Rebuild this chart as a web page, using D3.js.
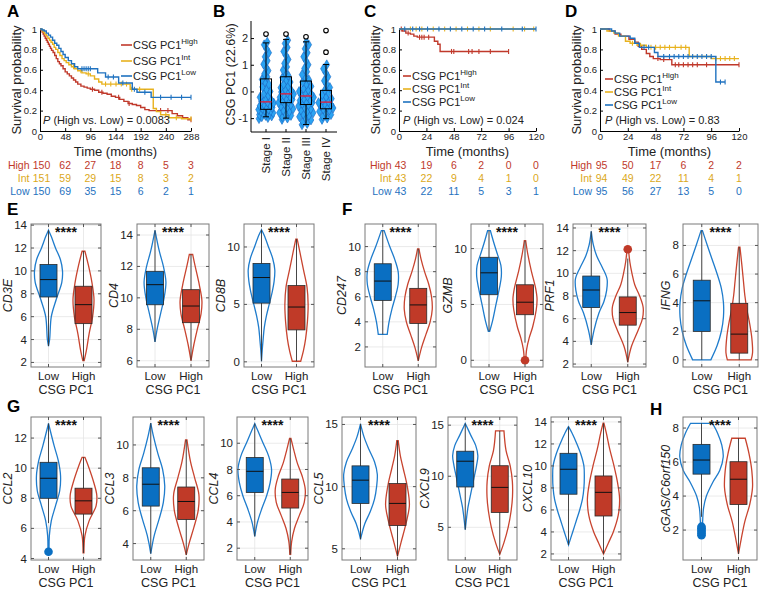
<!DOCTYPE html>
<html><head><meta charset="utf-8">
<script src="https://cdn.jsdelivr.net/npm/d3@7"></script>
<style>body{margin:0;background:#fff} svg{display:block}</style>
</head><body><script>
// ================= DATA =================
const kmGroups = ["High", "Int", "Low"];

// Panel A
const aTimeTicks = [0, 48, 96, 144, 192, 240, 288];
const aHighSteps = [[2,0.99],[4,0.97],[6,0.95],[8,0.93],[10,0.91],[12,0.89],[14,0.87],[16,0.85],[18,0.83],[20,0.81],[22,0.79],[25,0.77],[28,0.74],[31,0.71],[34,0.68],[37,0.66],[40,0.64],[44,0.61],[48,0.58],[52,0.56],[56,0.54],[60,0.52],[64,0.5],[68,0.48],[72,0.46],[78,0.44],[84,0.43],[90,0.42],[96,0.41],[104,0.4],[112,0.38],[120,0.37],[128,0.36],[136,0.34],[144,0.33],[152,0.31],[160,0.29],[168,0.27],[176,0.26],[184,0.25],[192,0.23],[200,0.21],[208,0.2],[252,0.17],[262,0.15],[272,0.13],[282,0.11]];
const aHighCensor = [100,118,150,170,230,244,288];
const aHighEnd = 288;
const aIntSteps = [[3,0.99],[6,0.97],[9,0.95],[12,0.93],[15,0.91],[18,0.89],[21,0.87],[24,0.85],[27,0.82],[30,0.8],[34,0.77],[38,0.74],[42,0.71],[46,0.69],[50,0.67],[55,0.65],[60,0.63],[66,0.61],[72,0.59],[80,0.57],[88,0.56],[96,0.54],[104,0.51],[112,0.48],[118,0.46],[172,0.41],[216,0.22],[222,0.19],[230,0.16],[246,0.13],[270,0.12]];
const aIntCensor = [64,78,92,125,135,145,155,165,175,190,240,260,288];
const aIntEnd = 288;
const aLowSteps = [[4,0.99],[8,0.98],[12,0.96],[16,0.94],[20,0.92],[24,0.89],[28,0.86],[32,0.84],[36,0.81],[40,0.78],[44,0.75],[48,0.72],[54,0.69],[60,0.66],[66,0.63],[72,0.61],[110,0.57],[125,0.53],[150,0.47],[176,0.41],[185,0.38],[212,0.33]];
const aLowCensor = [80,84,88,92,96,130,140,158,180,200,230,250,270,288];
const aLowEnd = 288;
const aRiskHigh = [150, 62, 27, 18, 8, 5, 3];
const aRiskInt  = [151, 59, 29, 15, 8, 3, 2];
const aRiskLow  = [150, 69, 35, 15, 6, 2, 1];
const aPValue = "0.0083";

// Panel C
const cTimeTicks = [0, 24, 48, 72, 96, 120];
const cHighSteps = [[3,0.98],[6,0.96],[10,0.95],[13,0.93],[16,0.92],[31,0.88],[34,0.85],[36,0.78]];
const cHighCensor = [2,8,18,20,22,26,46,48,61,64,70,80,96];
const cHighEnd = 96;
const cIntSteps = [];
const cIntCensor = [10,15,20,30,40,50,60,70,80,100,110,118];
const cIntEnd = 120;
const cLowSteps = [];
const cLowCensor = [5,12,18,25,35,45,55,65,75,90,108,120];
const cLowEnd = 120;
const cRiskHigh = [43, 19, 6, 2, 0, 0];
const cRiskInt  = [43, 22, 9, 4, 1, 0];
const cRiskLow  = [43, 22, 11, 5, 3, 1];
const cPValue = "0.024";

// Panel D
const dTimeTicks = [0, 24, 48, 72, 96, 120];
const dHighSteps = [[8,0.98],[13,0.95],[18,0.93],[25,0.9],[30,0.87],[33,0.83],[36,0.8],[40,0.76],[43,0.73],[46,0.71],[52,0.7],[62,0.65]];
const dHighCensor = [50,55,65,68,72,76,80,84,92,120];
const dHighEnd = 120;
const dIntSteps = [[6,0.98],[12,0.96],[16,0.93],[22,0.88],[26,0.86],[32,0.84],[40,0.82],[77,0.73],[96,0.71]];
const dIntCensor = [28,35,44,48,52,56,60,65,70,74,100,104,108,112,116];
const dIntEnd = 120;
const dLowSteps = [[10,0.98],[13,0.96],[17,0.93],[26,0.91],[30,0.86],[34,0.82],[47,0.77],[50,0.73],[100,0.48]];
const dLowCensor = [38,42,55,60,64,68,72,76,80,84,88,92,96,104,108];
const dLowEnd = 108;
const dRiskHigh = [95, 50, 17, 6, 2, 2];
const dRiskInt  = [94, 49, 22, 11, 4, 1];
const dRiskLow  = [95, 56, 27, 13, 5, 0];
const dPValue = "0.83";

// Panel B
const stages = ["Stage I", "Stage II", "Stage III", "Stage IV"];
const bTicks = [-1, 0, 1, 2];
// [whiskerLow, q1, median, q3, whiskerHigh]
const stageBox = [[-0.95,-0.67,-0.39,0.47,1.82],[-1.0,-0.42,-0.09,0.55,1.95],[-1.24,-0.49,-0.17,0.39,1.86],[-1.02,-0.65,-0.4,0.04,1.01]];
const stageOutliers = [[2.15],[2.15],[2.05],[1.47,2.28]];
const stageValues = [
  [-1.02,-0.98,-0.95,-0.92,-0.9,-0.87,-0.85,-0.82,-0.8,-0.78,-0.75,-0.72,-0.7,-0.68,-0.66,-0.63,-0.6,-0.57,-0.54,-0.5,-0.47,-0.43,-0.4,-0.37,-0.33,-0.28,-0.22,-0.15,-0.08,0,0.08,0.17,0.27,0.36,0.45,0.55,0.66,0.78,0.9,1.02,1.15,1.3,1.45,1.6,1.75,1.85],
  [-1.05,-1.0,-0.95,-0.9,-0.85,-0.8,-0.75,-0.7,-0.65,-0.6,-0.55,-0.5,-0.46,-0.42,-0.38,-0.34,-0.3,-0.26,-0.22,-0.18,-0.14,-0.1,-0.06,-0.02,0.03,0.08,0.14,0.2,0.27,0.35,0.43,0.52,0.6,0.7,0.8,0.92,1.05,1.2,1.35,1.5,1.65,1.8,1.92],
  [-1.25,-1.2,-1.13,-1.07,-1.0,-0.95,-0.9,-0.85,-0.8,-0.75,-0.7,-0.65,-0.6,-0.55,-0.5,-0.46,-0.42,-0.38,-0.34,-0.3,-0.26,-0.22,-0.18,-0.14,-0.1,-0.05,0,0.06,0.12,0.19,0.27,0.35,0.44,0.53,0.63,0.74,0.86,1.0,1.15,1.3,1.45,1.6,1.75,1.85],
  [-1.05,-1.0,-0.93,-0.87,-0.8,-0.75,-0.7,-0.66,-0.62,-0.58,-0.54,-0.5,-0.46,-0.42,-0.38,-0.33,-0.27,-0.2,-0.12,-0.04,0.05,0.15,0.27,0.4,0.55,0.7,0.85,1.0]
];

// Panels E-H
const groupsLH = ["Low", "High"];
const geneNames = ["CD3E","CD4","CD8B","CD247","GZMB","PRF1","IFNG","CCL2","CCL3","CCL4","CCL5","CXCL9","CXCL10","cGAS/C6orf150"];
const geneYLims = [[1.6,14.1],[5.6,14.7],[-0.45,12.0],[0.4,11.8],[-0.6,12.2],[1.74,14.35],[-0.5,9.5],[3.9,13.4],[3.0,11.7],[1.1,12.0],[4.1,15.6],[1.8,15.8],[1.45,14.45],[0.24,8.65]];
const geneYTicks = [[2,4,6,8,10,12,14],[6,8,10,12,14],[0,5,10],[2,4,6,8,10],[0,5,10],[2,4,6,8,10,12,14],[0,2,4,6,8],[4,6,8,10,12],[4,6,8,10],[2,4,6,8,10],[5,10,15],[5,10,15],[2,4,6,8,10,12,14],[2,4,6,8]];
// [whiskerLow, q1, median, q3, whiskerHigh]
const lowBox = [[3.43,7.72,9.24,10.56,13.56],[7.2,9.56,10.84,11.69,14.3],[0.05,5.11,7.34,8.57,11.5],[3.0,5.71,7.25,8.63,11.27],[2.6,5.87,7.83,9.22,11.6],[3.7,6.98,8.53,9.76,13.7],[0,1.99,4.13,5.57,9.04],[6.35,8.0,9.33,10.39,12.97],[3.39,6.28,7.61,8.61,11.33],[2.9,6.24,7.86,8.91,11.5],[5.77,8.65,10.52,11.67,15.05],[4.77,8.95,11.47,12.45,15.17],[2.82,7.43,9.7,11.15,13.57],[2.78,5.29,6.12,7.04,8.28]];
const highBox = [[2.17,5.39,7.05,8.66,11.72],[6.0,8.42,9.48,10.52,12.76],[0.05,2.78,4.77,6.64,10.68],[0.9,3.87,5.35,6.67,9.82],[1.58,4.08,5.2,6.76,10.7],[2.16,5.43,6.54,7.92,11.3],[0,0.47,1.8,3.95,7.88],[4.37,6.95,7.83,8.67,10.72],[3.31,5.46,6.56,7.44,10.31],[1.53,5.06,6.25,7.27,10.36],[4.4,6.87,8.65,10.25,13.7],[2.35,6.46,8.91,11.03,14.44],[2.0,5.45,7.6,9.09,13.88],[0.6,3.5,4.99,6.02,7.4]];
const lowOutliers = [[],[],[],[],[],[],[],[4.45],[],[],[],[],[],[1.7,1.8,1.9,2.0,2.1,2.2]];
const highOutliers = [[],[],[],[],[0],[12.13],[],[],[],[],[],[],[],[]];
// violin density profiles: [value, relative half-width]
const lowViolin = [
  [[3.43,0],[4,0.08],[6,0.2],[7.5,0.55],[9,0.95],[10,1.0],[11,0.85],[12,0.5],[13,0.2],[13.56,0]],
  [[7.2,0],[8,0.15],[9,0.4],[10,0.65],[11,0.78],[12,0.6],[13,0.3],[14.3,0]],
  [[0.05,0],[1,0.05],[2,0.12],[3,0.2],[4,0.35],[5,0.55],[6,0.75],[7,0.9],[8,0.95],[9,0.8],[10,0.5],[11,0.2],[11.5,0]],
  [[3.0,0.32],[4,0.45],[5,0.65],[6,0.9],[7,1.1],[8,1.1],[9,0.85],[10,0.5],[11.27,0.1]],
  [[2.6,0.05],[3.5,0.25],[5,0.5],[6.5,0.75],[7.5,0.88],[8.5,0.85],[9.5,0.6],[10.5,0.35],[11.6,0.1]],
  [[3.7,0],[5,0.2],[6.5,0.55],[7.5,0.9],[8.5,1.1],[9.5,1.13],[10.5,0.8],[11.5,0.4],[12.5,0.15],[13.7,0]],
  [[0,0.65],[1,1.1],[2,1.4],[3,1.55],[4,1.55],[5,1.4],[6,1.1],[7,0.75],[8,0.4],[9.04,0.05]],
  [[4.45,0.04],[5.5,0.06],[6.5,0.2],[7.5,0.5],[8.5,0.8],[9.5,0.86],[10.5,0.7],[11.5,0.4],[12.97,0]],
  [[3.39,0],[4.5,0.25],[5.5,0.6],[6.5,0.9],[7.5,1.0],[8.5,0.85],[9.5,0.5],[10.5,0.2],[11.33,0]],
  [[2.9,0],[4,0.2],[5,0.5],[6,0.85],[7,1.1],[8,1.2],[9,1.0],[10,0.6],[11,0.2],[11.5,0]],
  [[5.77,0],[7,0.3],[8,0.7],[9,1.0],[10,1.15],[11,1.2],[12,1.0],[13,0.6],[14,0.25],[15.05,0]],
  [[4.77,0],[6,0.1],[7,0.2],[8,0.35],[9,0.5],[10,0.65],[11,0.8],[12,0.9],[13,0.75],[14,0.4],[15.17,0]],
  [[2.82,0],[4,0.3],[5,0.55],[6,0.8],[7,1.0],[8,1.1],[9,1.13],[10,1.1],[11,0.9],[12,0.6],[13,0.25],[13.57,0]],
  [[1.7,0.05],[2.5,0.08],[3.3,0.15],[4,0.35],[4.8,0.8],[5.5,1.3],[6.3,1.55],[7,1.45],[7.7,1.15],[8.28,0.78]]
];
const highViolin = [
  [[2.17,0.05],[3,0.2],[4.5,0.4],[6,0.65],[7.5,0.75],[9,0.6],[10.5,0.35],[11.72,0.1]],
  [[6,0],[7,0.2],[8,0.45],[9,0.72],[9.8,0.78],[10.8,0.6],[12,0.3],[12.76,0.12]],
  [[0.05,0.3],[1,0.5],[2,0.65],[3.5,0.78],[5,0.83],[6.5,0.75],[8,0.5],[9.5,0.25],[10.68,0.05]],
  [[0.9,0],[2,0.25],[3,0.55],[4,0.85],[5,1.0],[6,0.95],[7,0.75],[8,0.45],[9,0.2],[9.82,0.05]],
  [[0,0.05],[1,0.12],[2,0.3],[3,0.55],[4.5,0.8],[5.5,0.86],[6.5,0.75],[8,0.45],[9.5,0.2],[10.7,0.05]],
  [[2.16,0],[3.5,0.25],[5,0.75],[6,1.05],[7,1.1],[8,0.85],[9,0.5],[10,0.3],[11,0.15],[12.13,0.05]],
  [[0,0.85],[0.5,0.95],[1.5,0.9],[2.5,0.75],[3.5,0.55],[4.5,0.4],[5.5,0.3],[6.5,0.2],[7.88,0.05]],
  [[4.37,0.03],[5.5,0.1],[6.5,0.4],[7.5,0.9],[8.2,0.95],[9,0.75],[10,0.4],[10.72,0.1]],
  [[3.31,0],[4,0.2],[5,0.55],[6,0.85],[7,0.9],[8,0.6],[9,0.3],[10.31,0.05]],
  [[1.53,0.03],[2.5,0.1],[3.5,0.3],[4.5,0.65],[5.5,1.0],[6.5,1.07],[7.5,0.85],[8.5,0.5],[9.5,0.25],[10.36,0.05]],
  [[4.4,0],[5.5,0.25],[7,0.6],[8.5,0.85],[10,0.7],[11.5,0.4],[12.5,0.2],[13.7,0.05]],
  [[2.35,0],[3.5,0.3],[5,0.6],[6.5,0.8],[8,0.91],[9.5,0.9],[11,0.75],[12.5,0.45],[14.44,0.3]],
  [[2.0,0],[3,0.35],[4,0.7],[5.5,1.05],[7,1.15],[8.5,1.0],[10,0.75],[11.5,0.45],[13,0.2],[13.88,0.03]],
  [[0.6,0],[1.5,0.2],[2.5,0.45],[3.5,0.8],[4.5,1.0],[5.5,0.95],[6.5,0.75],[7.4,0.48]]
];
const sigLabel = "****";

// ================= DRAWING =================
const FONT = '"Liberation Sans", Arial, Helvetica, sans-serif';
const KM_COL = ["#c0392b", "#e8b21e", "#1f72c0"];
const RISK_COL = ["#c0392b", "#dba81a", "#1f72c0"];
const BLUE_FILL = "#0a6fc2", RED_FILL = "#c03a28";
const BLUE_LINE = "#1f7ccc", RED_LINE = "#c8442f";

const svg = d3.select("body").append("svg")
  .attr("width", 764).attr("height", 602)
  .style("font-family", FONT);

function panelLetter(t, x, y) {
  svg.append("text").attr("x", x).attr("y", y).text(t)
    .attr("font-size", 17).attr("font-weight", "bold").attr("fill", "#000");
}

function drawKM(cfg) {
  const g = svg.append("g");
  const x = d3.scaleLinear().domain([0, cfg.xmax]).range([cfg.l, cfg.r]);
  const y = d3.scaleLinear().domain([0, 1]).range([cfg.b, cfg.t]);
  const xa = g.append("g").attr("transform", `translate(0,${cfg.b})`)
    .call(d3.axisBottom(x).tickValues(cfg.xticks).tickSizeInner(-3).tickSizeOuter(0).tickPadding(2));
  const ya = g.append("g").attr("transform", `translate(${cfg.l},0)`)
    .call(d3.axisLeft(y).tickValues([0, 0.2, 0.4, 0.6, 0.8, 1])
      .tickFormat(d => d === 0 ? "0" : d === 1 ? "1" : d3.format(".1f")(d))
      .tickSizeInner(-3).tickSizeOuter(0).tickPadding(3));
  [xa, ya].forEach(a => {
    a.attr("font-family", FONT).attr("font-size", 9.5);
    a.selectAll("path,line").attr("stroke", "#000");
    a.selectAll("text").attr("fill", "#222");
  });
  cfg.curves.forEach((c, k) => {
    const last = c.steps.length ? c.steps[c.steps.length - 1][1] : 1;
    const pts = [[0, 1]].concat(c.steps, [[c.end, last]]);
    g.append("path").datum(pts)
      .attr("d", d3.line().x(d => x(d[0])).y(d => y(d[1])).curve(d3.curveStepAfter))
      .attr("fill", "none").attr("stroke", KM_COL[k]).attr("stroke-width", 1.4);
    const S = t => { let s = 1; for (const [tt, ss] of c.steps) if (tt <= t) s = ss; return s; };
    c.censor.forEach(t => {
      g.append("line").attr("x1", x(t)).attr("x2", x(t))
        .attr("y1", y(S(t)) - 2.5).attr("y2", y(S(t)) + 2.5)
        .attr("stroke", KM_COL[k]).attr("stroke-width", 1.1);
    });
  });
  kmGroups.forEach((gr, k) => {
    const ly = cfg.legY[k];
    g.append("line").attr("x1", cfg.legX).attr("x2", cfg.legX + cfg.legLen)
      .attr("y1", ly).attr("y2", ly).attr("stroke", KM_COL[k]).attr("stroke-width", 1.6);
    const t = g.append("text").attr("x", cfg.legX + cfg.legLen + 1).attr("y", ly + 4)
      .attr("font-size", 11).attr("fill", "#222");
    t.append("tspan").text("CSG PC1");
    t.append("tspan").text(gr).attr("font-size", 8).attr("dy", -5);
  });
  const pt = g.append("text").attr("x", cfg.pX).attr("y", cfg.pY).attr("font-size", 11).attr("fill", "#222");
  pt.append("tspan").text("P").attr("font-style", "italic");
  pt.append("tspan").text(" (High vs. Low) = " + cfg.p);
  g.append("text").attr("x", (cfg.l + cfg.r) / 2).attr("y", cfg.b + 25)
    .attr("text-anchor", "middle").attr("font-size", 13).attr("fill", "#222").text("Time (months)");
  g.append("text").attr("transform", `translate(${cfg.ylabX},${(cfg.t + cfg.b) / 2}) rotate(-90)`)
    .attr("text-anchor", "middle").attr("font-size", 13).attr("fill", "#222").text("Survival probability");
  cfg.risk.forEach((row, k) => {
    const ry = cfg.riskY[k];
    g.append("text").attr("x", cfg.riskLabX).attr("y", ry).attr("text-anchor", "end")
      .attr("font-size", 10.5).attr("fill", RISK_COL[k]).text(kmGroups[k]);
    row.forEach((v, j) => {
      g.append("text").attr("x", x(cfg.xticks[j]) + (j === 0 ? 1.5 : 0)).attr("y", ry).attr("text-anchor", "middle")
        .attr("font-size", 10.5).attr("fill", RISK_COL[k]).text(v);
    });
  });
}

const riskRowsY = [168.5, 181.5, 194.5];
drawKM({ l: 40, r: 191, t: 29, b: 131, xmax: 288, xticks: aTimeTicks,
  curves: [{ steps: aHighSteps, censor: aHighCensor, end: aHighEnd },
           { steps: aIntSteps, censor: aIntCensor, end: aIntEnd },
           { steps: aLowSteps, censor: aLowCensor, end: aLowEnd }],
  legX: 121, legLen: 11, legY: [45, 61, 76], pX: 43, pY: 124, p: aPValue, ylabX: 21,
  risk: [aRiskHigh, aRiskInt, aRiskLow], riskY: riskRowsY, riskLabX: 29.5 });

drawKM({ l: 399, r: 536, t: 29, b: 131, xmax: 120, xticks: cTimeTicks,
  curves: [{ steps: cHighSteps, censor: cHighCensor, end: cHighEnd },
           { steps: cIntSteps, censor: cIntCensor, end: cIntEnd },
           { steps: cLowSteps, censor: cLowCensor, end: cLowEnd }],
  legX: 403, legLen: 8, legY: [76, 89, 102], pX: 403, pY: 124, p: cPValue, ylabX: 380,
  risk: [cRiskHigh, cRiskInt, cRiskLow], riskY: riskRowsY, riskLabX: 391.5 });

drawKM({ l: 600, r: 739, t: 29, b: 131, xmax: 120, xticks: dTimeTicks,
  curves: [{ steps: dHighSteps, censor: dHighCensor, end: dHighEnd },
           { steps: dIntSteps, censor: dIntCensor, end: dIntEnd },
           { steps: dLowSteps, censor: dLowCensor, end: dLowEnd }],
  legX: 605, legLen: 8, legY: [79, 92, 105], pX: 605, pY: 124, p: dPValue, ylabX: 581,
  risk: [dRiskHigh, dRiskInt, dRiskLow], riskY: riskRowsY, riskLabX: 592 });

// ---- Panel B ----
(function () {
  const l = 251, r = 337, t = 21, b = 132;
  const g = svg.append("g");
  const x = d3.scaleBand().domain(stages).range([l + 5, r - 1]).padding(0);
  const cx = s => x(s) + x.bandwidth() / 2;
  const y = d3.scaleLinear().domain([-1.52, 2.64]).range([b, t]);
  const diamond = d3.symbol().type(d3.symbolDiamond).size(28);
  stages.forEach((s, i) => {
    const vals = stageValues[i].slice().sort((a, b) => a - b);
    vals.forEach((v, j) => {
      const cnt = vals.filter(u => Math.abs(u - v) < 0.2).length;
      const w = Math.min(8, 1.0 * cnt);
      const frac = ((j * 0.618034) % 1) - 0.5;
      g.append("path").attr("d", diamond)
        .attr("transform", `translate(${cx(s) + frac * 2 * w},${y(v)})`)
        .attr("fill", "#2aa3f2").attr("stroke", "#1a66c2").attr("stroke-width", 0.6);
    });
  });
  stages.forEach((s, i) => {
    const [wl, q1, md, q3, wh] = stageBox[i];
    const c = cx(s), hw = 5.5;
    g.append("line").attr("x1", c).attr("x2", c).attr("y1", y(wl)).attr("y2", y(q1)).attr("stroke", "#000").attr("stroke-width", 1);
    g.append("line").attr("x1", c).attr("x2", c).attr("y1", y(q3)).attr("y2", y(wh)).attr("stroke", "#000").attr("stroke-width", 1);
    [wl, wh].forEach(v => g.append("line").attr("x1", c - 3).attr("x2", c + 3).attr("y1", y(v)).attr("y2", y(v)).attr("stroke", "#000"));
    g.append("rect").attr("x", c - hw).attr("y", y(q3)).attr("width", 2 * hw).attr("height", y(q1) - y(q3))
      .attr("fill", "none").attr("stroke", "#000").attr("stroke-width", 1);
    g.append("line").attr("x1", c - hw).attr("x2", c + hw).attr("y1", y(md)).attr("y2", y(md))
      .attr("stroke", "#d0284a").attr("stroke-width", 1.5);
    stageOutliers[i].forEach(v => g.append("circle").attr("cx", c).attr("cy", y(v)).attr("r", 2.3)
      .attr("fill", "#fff").attr("stroke", "#000").attr("stroke-width", 1.1));
  });
  const ya = g.append("g").attr("transform", `translate(${l},0)`)
    .call(d3.axisLeft(y).tickValues(bTicks).tickFormat(d => d < 0 ? "-" + Math.abs(d) : d).tickSizeInner(-3).tickSizeOuter(0).tickPadding(3));
  g.append("line").attr("x1", l).attr("x2", r).attr("y1", b).attr("y2", b).attr("stroke", "#000");
  ya.select(".domain").attr("d", `M0,${t}V${b}`);
  ya.attr("font-family", FONT).attr("font-size", 11);
  ya.selectAll("path,line").attr("stroke", "#000");
  ya.selectAll("text").attr("fill", "#222");
  stages.forEach(s => {
    g.append("line").attr("x1", cx(s)).attr("x2", cx(s)).attr("y1", b).attr("y2", b - 3).attr("stroke", "#000");
    g.append("text").attr("transform", `translate(${cx(s) + 4},${b + 5}) rotate(-90)`)
      .attr("text-anchor", "end").attr("font-size", 11.5).attr("fill", "#222").text(s);
  });
  g.append("text").attr("transform", `translate(${235},${(t + b) / 2 - 2}) rotate(-90)`)
    .attr("text-anchor", "middle").attr("font-size", 12.5).attr("fill", "#222").text("CSG PC1 (22.6%)");
})();

// ---- Panels E-H (violin + box) ----
const panelFrames = [
  [31, 101], [137, 209], [244, 314],
  [365, 436], [471, 543], [573, 646], [683, 758],
  [31, 101], [133, 204], [237, 308], [342, 416], [448, 517], [551, 621], [683, 757]
];
const rowTB = [[224, 367], [417, 560]];

function drawViolinPanel(i) {
  const [l, r] = panelFrames[i];
  const [t, b] = rowTB[i < 7 ? 0 : 1];
  const g = svg.append("g");
  const y = d3.scaleLinear().domain(geneYLims[i]).range([b, t]);
  const x = d3.scalePoint().domain(groupsLH).range([l + (r - l) / 4, l + 3 * (r - l) / 4]);
  geneYTicks[i].forEach(v => g.append("line").attr("x1", l).attr("x2", r).attr("y1", y(v)).attr("y2", y(v))
    .attr("stroke", "#e4e4e4").attr("stroke-width", 0.8));
  groupsLH.forEach(c => g.append("line").attr("x1", x(c)).attr("x2", x(c)).attr("y1", t).attr("y2", b)
    .attr("stroke", "#e4e4e4").attr("stroke-width", 0.8));
  const boxes = [lowBox[i], highBox[i]];
  const viol = [lowViolin[i], highViolin[i]];
  const outs = [lowOutliers[i], highOutliers[i]];
  const fills = [BLUE_FILL, RED_FILL], lines = [BLUE_LINE, RED_LINE];
  groupsLH.forEach((c, k) => {
    const cx = x(c);
    const area = d3.area().curve(d3.curveCatmullRom.alpha(0.5))
      .y(d => y(d[0])).x0(d => cx - d[1] * 14).x1(d => cx + d[1] * 14);
    g.append("path").datum(viol[k]).attr("d", area)
      .attr("fill", "none").attr("stroke", lines[k]).attr("stroke-width", 1.3);
    const [wl, q1, md, q3, wh] = boxes[k];
    g.append("line").attr("x1", cx).attr("x2", cx).attr("y1", y(wl)).attr("y2", y(wh))
      .attr("stroke", "#333").attr("stroke-width", 0.9);
    g.append("rect").attr("x", cx - 8.5).attr("y", y(q3)).attr("width", 17).attr("height", y(q1) - y(q3))
      .attr("fill", fills[k]).attr("stroke", "#2a2a2a").attr("stroke-width", 0.8);
    g.append("line").attr("x1", cx - 8.5).attr("x2", cx + 8.5).attr("y1", y(md)).attr("y2", y(md))
      .attr("stroke", "#111").attr("stroke-width", 1);
    outs[k].forEach(v => g.append("circle").attr("cx", cx).attr("cy", y(v)).attr("r", 4.3).attr("fill", fills[k]));
  });
  g.append("rect").attr("x", l).attr("y", t).attr("width", r - l).attr("height", b - t)
    .attr("fill", "none").attr("stroke", "#7a7a7a").attr("stroke-width", 1);
  let maxLen = 0;
  geneYTicks[i].forEach(v => {
    maxLen = Math.max(maxLen, String(v).length);
    g.append("line").attr("x1", l).attr("x2", l + 3).attr("y1", y(v)).attr("y2", y(v)).attr("stroke", "#555");
    g.append("line").attr("x1", r).attr("x2", r - 3).attr("y1", y(v)).attr("y2", y(v)).attr("stroke", "#555");
    g.append("text").attr("x", l - 4).attr("y", y(v)).attr("dy", "0.35em").attr("text-anchor", "end")
      .attr("font-size", 11.5).attr("fill", "#222").text(v);
  });
  groupsLH.forEach(c => {
    g.append("line").attr("x1", x(c)).attr("x2", x(c)).attr("y1", b).attr("y2", b - 3).attr("stroke", "#555");
    g.append("line").attr("x1", x(c)).attr("x2", x(c)).attr("y1", t).attr("y2", t + 3).attr("stroke", "#555");
    g.append("text").attr("x", x(c)).attr("y", b + 13).attr("text-anchor", "middle")
      .attr("font-size", 11.5).attr("fill", "#222").text(c);
  });
  g.append("text").attr("x", (l + r) / 2).attr("y", b + 27).attr("text-anchor", "middle")
    .attr("font-size", 12.5).attr("fill", "#222").text("CSG PC1");
  g.append("text").attr("x", (l + r) / 2).attr("y", t + 13).attr("text-anchor", "middle")
    .attr("font-size", 14).attr("font-weight", "bold").attr("fill", "#111").text(sigLabel);
  const labX = l - 4 - maxLen * 6.4 - 7;
  g.append("text").attr("transform", `translate(${labX},${(t + b) / 2}) rotate(-90)`)
    .attr("text-anchor", "middle").attr("dy", "0.35em").attr("font-style", "italic")
    .attr("font-size", 12.5).attr("fill", "#222").text(geneNames[i]);
}
geneNames.forEach((_, i) => drawViolinPanel(i));

panelLetter("A", 7, 17);
panelLetter("B", 213, 17);
panelLetter("C", 364, 17);
panelLetter("D", 565, 17);
panelLetter("E", 7, 215);
panelLetter("F", 342, 215);
panelLetter("G", 7, 412);
panelLetter("H", 650, 415);
</script></body></html>
